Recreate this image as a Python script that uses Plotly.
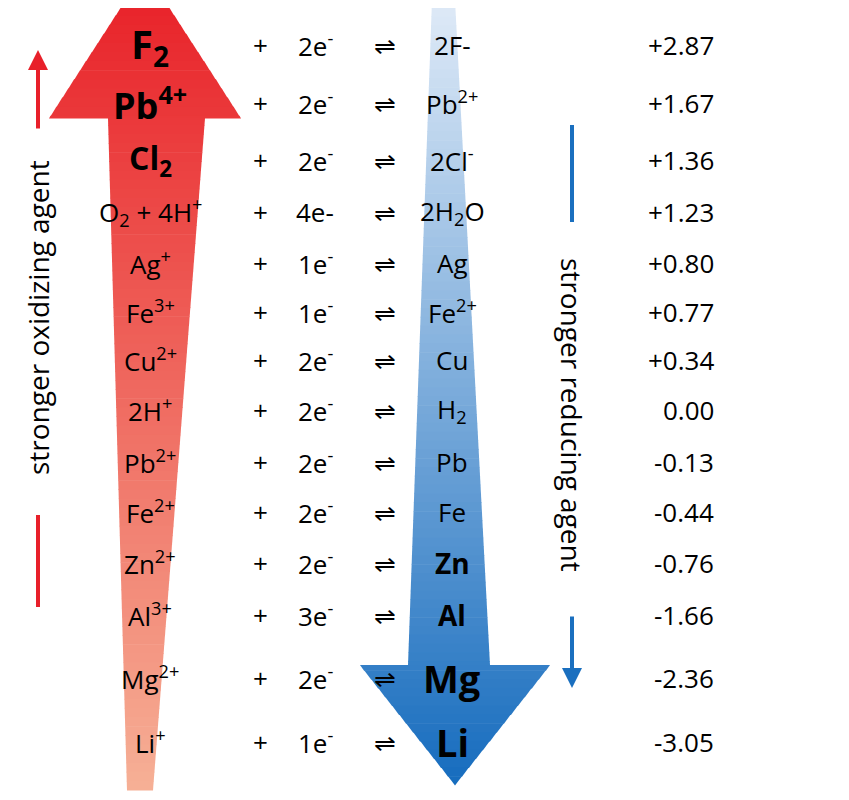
import plotly.graph_objects as go

# half-reaction table (standard reduction potentials, V)
oxidants = ["<b>F<sub>2</sub></b>", "<b>Pb<sup>4+</sup></b>", "<b>Cl<sub>2</sub></b>", "O<sub>2</sub> + 4H<sup>+</sup>",
            "Ag<sup>+</sup>", "Fe<sup>3+</sup>", "Cu<sup>2+</sup>", "2H<sup>+</sup>", "Pb<sup>2+</sup>",
            "Fe<sup>2+</sup>", "Zn<sup>2+</sup>", "Al<sup>3+</sup>", "Mg<sup>2+</sup>", "Li<sup>+</sup>"]
electrons = ["2e<sup>-</sup>", "2e<sup>-</sup>", "2e<sup>-</sup>", "4e-", "1e<sup>-</sup>", "1e<sup>-</sup>",
             "2e<sup>-</sup>", "2e<sup>-</sup>", "2e<sup>-</sup>", "2e<sup>-</sup>", "2e<sup>-</sup>",
             "3e<sup>-</sup>", "2e<sup>-</sup>", "1e<sup>-</sup>"]
reductants = ["2F-", "Pb<sup>2+</sup>", "2Cl<sup>-</sup>", "2H<sub>2</sub>O", "Ag", "Fe<sup>2+</sup>", "Cu",
              "H<sub>2</sub>", "Pb", "Fe", "<b>Zn</b>", "<b>Al</b>", "<b>Mg</b>", "<b>Li</b>"]
potentials = ["+2.87", "+1.67", "+1.36", "+1.23", "+0.80", "+0.77", "+0.34", "0.00",
              "-0.13", "-0.44", "-0.76", "-1.66", "-2.36", "-3.05"]

# layout (pixel coordinates)
row_y = [45, 103, 160, 212, 263, 312, 360, 410, 462, 512, 563, 615, 678, 742]
ox_size = [40, 36, 32, 26, 26, 26, 26, 26, 26, 26, 26, 26, 26, 26]
red_size = [26, 26, 26, 26, 26, 26, 26, 26, 26, 26, 28, 28, 38, 38]
FONT = "Open Sans"


def lerp(a, b, t):
    return a + (b - a) * t


def mix(c1, c2, t):
    return "rgb(%d,%d,%d)" % tuple(round(lerp(a, b, t)) for a, b in zip(c1, c2))


def red_edges(y):
    if y < 118:
        t = (y + 30) / 148
        return 145 - 96 * t, 145 + 96 * t
    t = (y - 118) / (790 - 118)
    return lerp(108, 127, t), lerp(205, 153, t)


def blue_edges(y):
    if y < 665:
        t = y / 665
        return lerp(432, 408, t), lerp(455, 490, t)
    t = (785 - y) / 120
    return 455 - 95 * t, 455 + 95 * t


def gradient_arrow(edges, y0, y1, c_top, c_bot, breaks, n=90):
    shapes = []
    ys = sorted(set([y0 + (y1 - y0) * i / n for i in range(n + 1)] + breaks))
    for a, b in zip(ys[:-1], ys[1:]):
        la, ra = edges(a + 0.001)
        lb, rb = edges(b - 0.001)
        col = mix(c_top, c_bot, ((a + b) / 2 - y0) / (y1 - y0))
        shapes.append(dict(type="path", xref="x", yref="y", layer="below",
                           path=f"M{la},{a} L{ra},{a} L{rb},{b + 0.6} L{lb},{b + 0.6} Z",
                           fillcolor=col, line=dict(width=0)))
    return shapes


shapes = []
shapes += gradient_arrow(red_edges, -30, 790, (232, 30, 38), (246, 176, 150), [118])
shapes += gradient_arrow(blue_edges, -10, 785, (226, 236, 248), (22, 108, 190), [665])
# side indicator lines
shapes += [
    dict(type="line", x0=38, x1=38, y0=515, y1=607, line=dict(color="#e8202a", width=4)),
    dict(type="line", x0=572, x1=572, y0=125, y1=222, line=dict(color="#1a6fbf", width=4)),
]

ann = []
for i in range(len(oxidants)):
    y = row_y[i]
    ann.append(dict(x=150, y=y, text=oxidants[i], font=dict(size=ox_size[i])))
    ann.append(dict(x=260, y=y, text="+"))
    ann.append(dict(x=315, y=y, text=electrons[i]))
    ann.append(dict(x=385, y=y, text="⇌"))
    ann.append(dict(x=452, y=y, text=reductants[i], font=dict(size=red_size[i])))
    ann.append(dict(x=716, y=y, text=potentials[i], xanchor="right"))
for a in ann:
    a.setdefault("font", dict(size=26))
    a["font"]["family"] = FONT
    a["font"]["color"] = "black"
    a.update(xref="x", yref="y", showarrow=False, xanchor=a.get("xanchor", "center"))

ann += [
    dict(x=38, y=318, text="stronger oxidizing agent", textangle=-90, showarrow=False,
         font=dict(size=28, family=FONT, color="black"), xref="x", yref="y"),
    dict(x=572, y=415, text="stronger reducing agent", textangle=90, showarrow=False,
         font=dict(size=28, family=FONT, color="black"), xref="x", yref="y"),
    dict(x=38, y=50, ax=38, ay=130, axref="x", ayref="y", xref="x", yref="y", text="",
         showarrow=True, arrowhead=2, arrowsize=1, arrowwidth=4, arrowcolor="#e8202a"),
    dict(x=572, y=688, ax=572, ay=615, axref="x", ayref="y", xref="x", yref="y", text="",
         showarrow=True, arrowhead=2, arrowsize=1, arrowwidth=4, arrowcolor="#1a6fbf"),
]

fig = go.Figure()
fig.update_layout(
    width=849, height=800, margin=dict(l=0, r=0, t=0, b=0),
    paper_bgcolor="white", plot_bgcolor="white",
    # the page body has an 8px margin, so the view is offset to land on the reference pixels
    xaxis=dict(range=[8, 857], visible=False, fixedrange=True),
    yaxis=dict(range=[808, 8], visible=False, fixedrange=True),
    shapes=shapes, annotations=ann, showlegend=False,
)
fig.write_html("out.html")
